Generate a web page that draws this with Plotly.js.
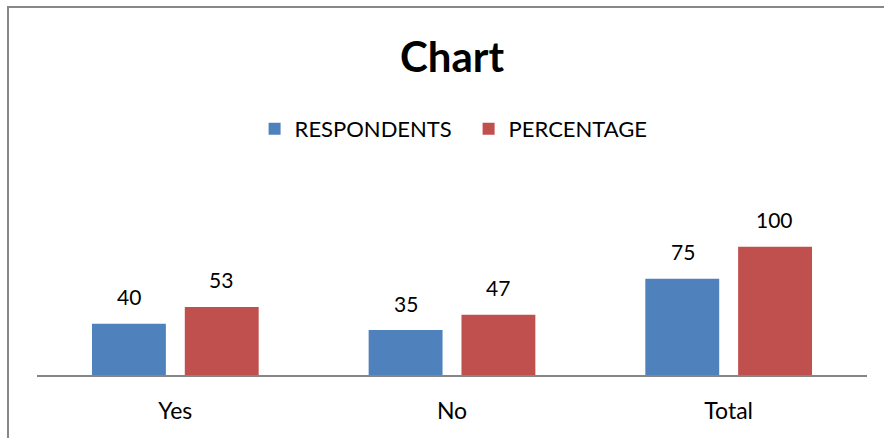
<!DOCTYPE html>
<html>
<head>
<meta charset="utf-8">
<script src="https://cdn.plot.ly/plotly-3.0.1.min.js"></script>
<style>
html,body{margin:0;padding:0;background:#fff;}
#chart{position:absolute;left:0;top:0;width:884px;height:438px;}
#frame{position:absolute;left:7px;top:6px;width:1000px;height:600px;border-left:2px solid #878787;border-top:2px solid #878787;pointer-events:none;}
</style>
</head>
<body>
<div id="chart"></div>
<div id="frame"></div>
<script>
const categories = ["Yes", "No", "Total"];
const respondents = [40, 35, 75];
const percentage = [53, 47, 100];
const seriesNames = ["RESPONDENTS", "PERCENTAGE"];
const colors = ["#4F81BD", "#C0504D"];

const font = "Lato, 'Open Sans', sans-serif";

const traces = [
  {type: "bar", name: seriesNames[0], x: categories, y: respondents, marker: {color: colors[0]}, hoverinfo: "none"},
  {type: "bar", name: seriesNames[1], x: categories, y: percentage, marker: {color: colors[1]}, hoverinfo: "none"}
];

const annotations = [];
[respondents, percentage].forEach((vals, si) => {
  vals.forEach((v, i) => {
    annotations.push({
      x: categories[i], y: v, xref: "x", yref: "y",
      text: String(v), showarrow: false,
      xshift: si === 0 ? -46 : 46, yshift: 27, yanchor: "middle",
      font: {family: font, size: 21, color: "#000"}
    });
  });
});

const layout = {
  width: 884, height: 438,
  margin: {l: 37, r: 17, t: 221, b: 63},
  paper_bgcolor: "rgba(0,0,0,0)", plot_bgcolor: "rgba(0,0,0,0)",
  barmode: "group", bargap: 0.329, bargroupgap: 0.204,
  title: {text: "<b>Chart</b>", x: 0.5, xref: "paper", xanchor: "center",
          y: 1 - 57/438, yanchor: "middle", font: {family: font, size: 42, color: "#000"}},
  showlegend: true,
  legend: {orientation: "h", x: 0.52, xanchor: "center", xref: "paper", y: (375-129)/154, yanchor: "middle",
           font: {family: font, size: 22, color: "#000"}, itemwidth: 30, traceorder: "normal",
           entrywidth: 169, entrywidthmode: "pixels"},
  xaxis: {type: "category", range: [-0.5, 2.5], showline: true, linecolor: "#868686", linewidth: 1.5,
          ticks: "", showgrid: false, zeroline: false, ticklabelstandoff: 15,
          tickfont: {family: font, size: 23, color: "#000"}, fixedrange: true},
  yaxis: {range: [0, 120], visible: false, showgrid: false, zeroline: false, fixedrange: true},
  annotations: annotations
};

Plotly.newPlot("chart", traces, layout, {displayModeBar: false, staticPlot: true});
</script>
</body>
</html>
